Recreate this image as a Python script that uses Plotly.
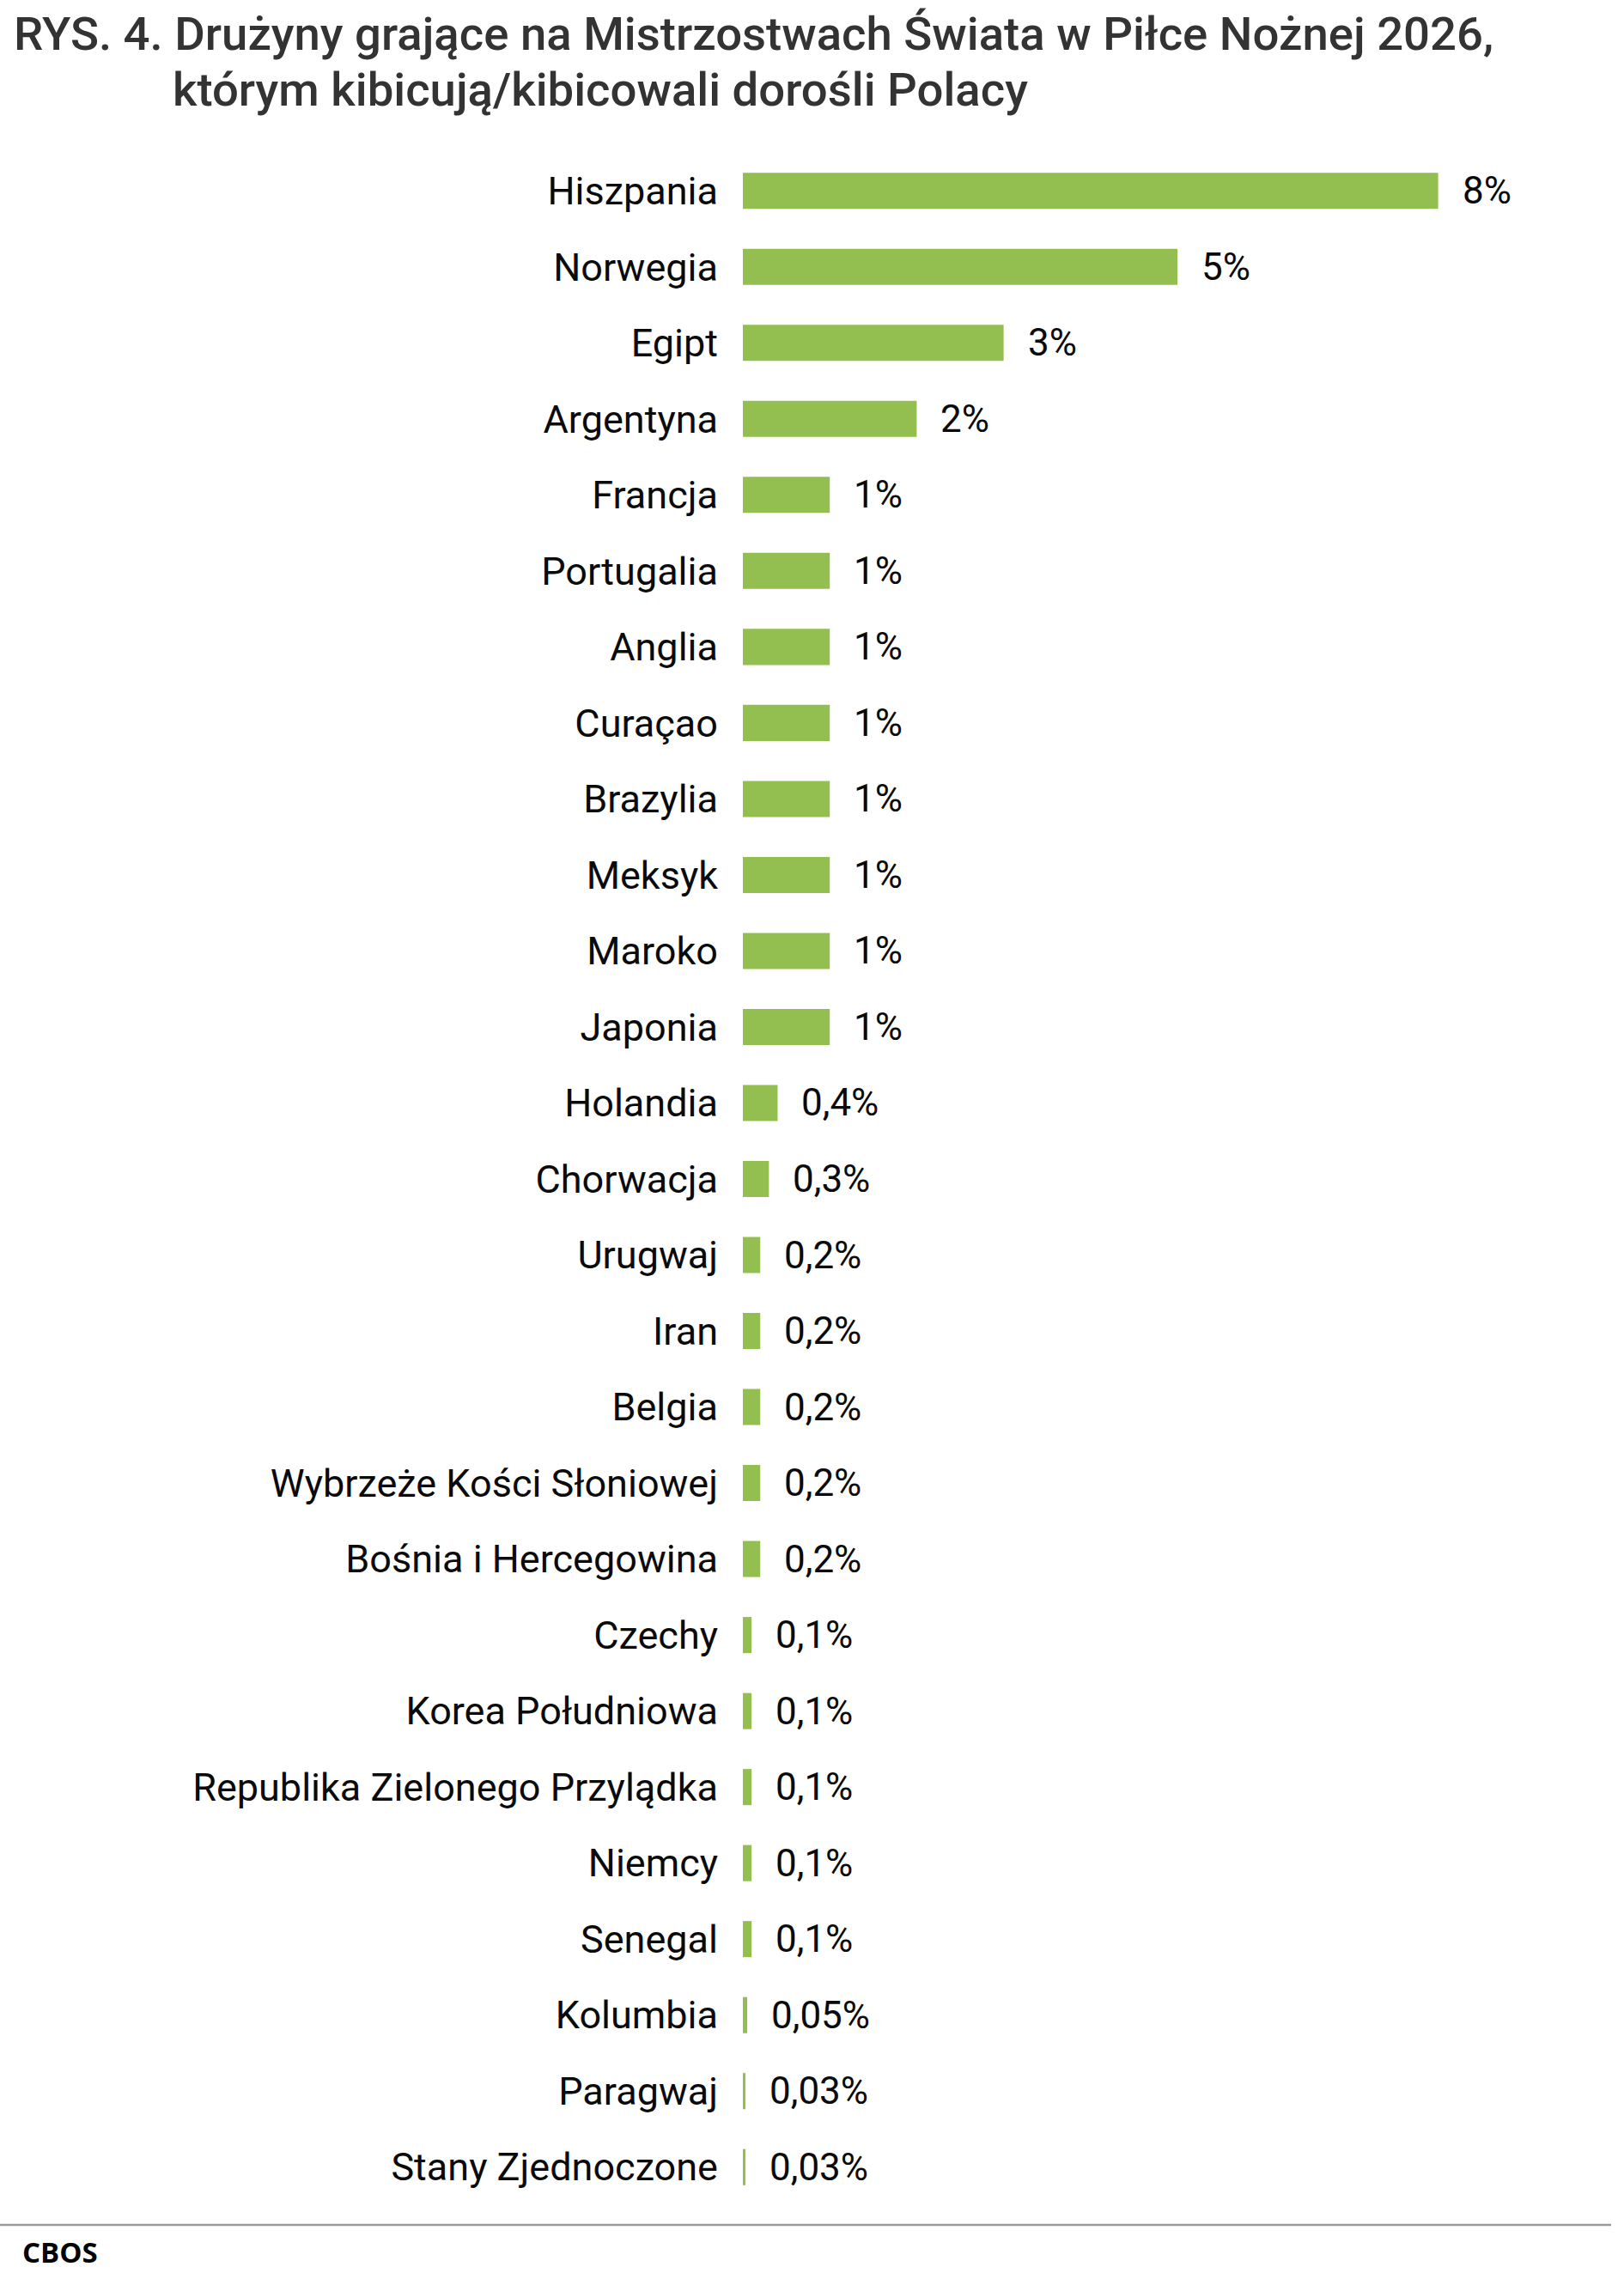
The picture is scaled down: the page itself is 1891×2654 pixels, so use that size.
import plotly.graph_objects as go

categories = ["Hiszpania", "Norwegia", "Egipt", "Argentyna", "Francja", "Portugalia",
              "Anglia", "Curaçao", "Brazylia", "Meksyk", "Maroko", "Japonia",
              "Holandia", "Chorwacja", "Urugwaj", "Iran", "Belgia",
              "Wybrzeże Kości Słoniowej", "Bośnia i Hercegowina", "Czechy",
              "Korea Południowa", "Republika Zielonego Przylądka", "Niemcy",
              "Senegal", "Kolumbia", "Paragwaj", "Stany Zjednoczone"]
values = [8, 5, 3, 2, 1, 1, 1, 1, 1, 1, 1, 1, 0.4, 0.3, 0.2, 0.2, 0.2, 0.2, 0.2,
          0.1, 0.1, 0.1, 0.1, 0.1, 0.05, 0.03, 0.03]
value_labels = [f"{v:g}".replace(".", ",") + "%" for v in values]

title_line1 = "RYS. 4. Drużyny grające na Mistrzostwach Świata w Piłce Nożnej 2026,"
title_line2 = "którym kibicują/kibicowali dorośli Polacy"
source = "CBOS"

W_PX, H_PX = 1891, 2654
L, R, T, B = 865, 14, 178, 86
PW = W_PX - L - R
PH = H_PX - T - B


def px(x):
    return (x - L) / PW


def py(y):
    return (H_PX - B - y) / PH


GREEN = "#92BF4F"

fig = go.Figure(go.Bar(
    x=values, y=categories, orientation="h",
    marker=dict(color=GREEN, line=dict(width=0)),
    width=0.475, hoverinfo="skip",
))

annotations = []
for c, v, lab in zip(categories, values, value_labels):
    annotations.append(dict(x=v, y=c, xref="x", yref="y", text=lab, showarrow=False,
                            xanchor="left", yanchor="middle", xshift=26,
                            font=dict(family="Roboto", size=44, color="#0a0a0a")))

title_font = dict(family="Roboto", size=54.5, color="#333333", weight=500)
annotations.append(dict(x=px(14), y=py(39), xref="paper", yref="paper", text=title_line1,
                        showarrow=False, xanchor="left", yanchor="middle", font=title_font))
annotations.append(dict(x=px(199), y=py(104), xref="paper", yref="paper", text=title_line2,
                        showarrow=False, xanchor="left", yanchor="middle", font=title_font))
annotations.append(dict(x=px(24), y=py(2622), xref="paper", yref="paper",
                        text="<b>" + source + "</b>", showarrow=False,
                        xanchor="left", yanchor="middle",
                        font=dict(family="Open Sans", size=33, color="#000000")))

fig.update_layout(
    width=W_PX, height=H_PX,
    margin=dict(l=L, r=R, t=T, b=B),
    paper_bgcolor="white", plot_bgcolor="white",
    showlegend=False,
    annotations=annotations,
    shapes=[dict(type="line", xref="paper", yref="paper",
                 x0=px(0), x1=px(1876), y0=py(2591), y1=py(2591),
                 line=dict(color="#9a9a9a", width=2.5))],
)
fig.update_xaxes(range=[0, 10], visible=False, showgrid=False, zeroline=False)
fig.update_yaxes(autorange="reversed", showgrid=False, zeroline=False, showline=False,
                 ticks="", ticklabelstandoff=28,
                 tickfont=dict(family="Roboto", size=45, color="#0a0a0a"))

fig.write_html("out.html")
